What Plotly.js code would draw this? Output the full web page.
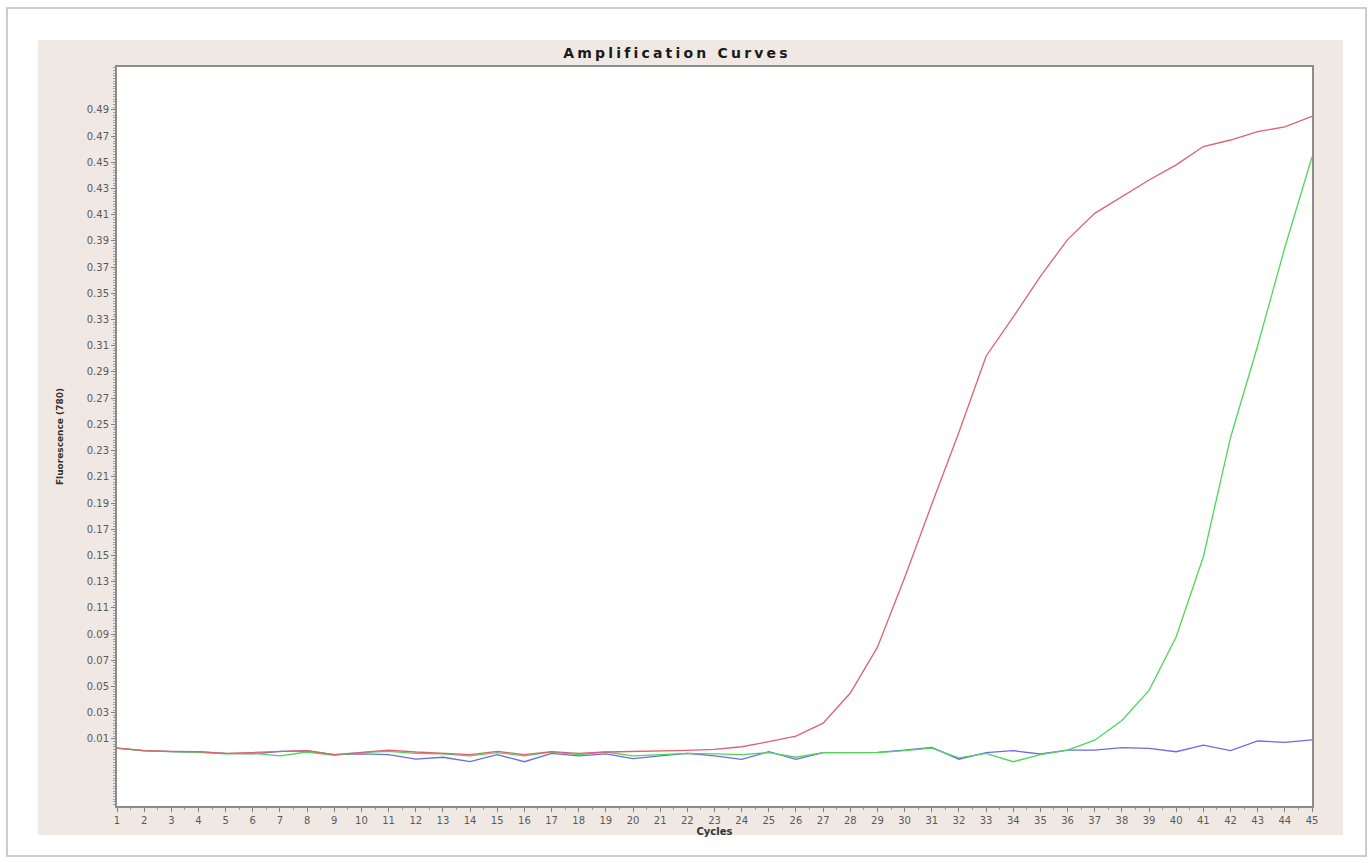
<!DOCTYPE html>
<html>
<head>
<meta charset="utf-8">
<script src="https://cdn.plot.ly/plotly-3.0.1.min.js"></script>
<style>
  html, body { margin: 0; padding: 0; background: #ffffff; }
  #chart { width: 1372px; height: 863px; }
</style>
</head>
<body>
<div id="chart"></div>
<script>
// ---- data ----
const cycles = [1,2,3,4,5,6,7,8,9,10,11,12,13,14,15,16,17,18,19,20,21,22,23,24,25,26,27,28,29,30,31,32,33,34,35,36,37,38,39,40,41,42,43,44,45];

const redSeries = [0.003,0.001,0.0005,0.0003,-0.001,-0.0005,0.0,0.001,-0.002,0.0,
  0.0015,0.0,-0.001,-0.002,0.0005,-0.002,0.0003,-0.001,0.0,0.0003,
  0.001,0.0013,0.002,0.004,0.0079,0.0122,0.022,0.045,0.080,0.133,
  0.189,0.244,0.302,0.332,0.363,0.391,0.411,0.424,0.4365,0.448,
  0.462,0.467,0.4734,0.477,0.485];

const greenSeries = [0.003,0.0008,0.0003,-0.0003,-0.0015,-0.001,-0.003,0.0,-0.0025,-0.0005,
  0.0005,-0.001,-0.0015,-0.003,-0.0005,-0.003,0.0,-0.002,0.0,-0.003,
  -0.002,-0.001,-0.0015,-0.002,-0.0005,-0.004,-0.0005,-0.0003,-0.0005,0.001,
  0.003,-0.0045,-0.001,-0.0074,-0.002,0.0015,0.009,0.024,0.047,0.088,
  0.149,0.24,0.31,0.385,0.454];

const blueSeries = [0.003,0.001,0.0003,0.0,-0.001,-0.0015,0.0005,0.0008,-0.002,-0.0015,
  -0.002,-0.0055,-0.004,-0.0074,-0.002,-0.0074,-0.001,-0.003,-0.0015,-0.005,
  -0.003,-0.001,-0.003,-0.0056,0.0002,-0.0056,-0.0005,-0.0003,-0.0003,0.0015,
  0.0036,-0.0055,-0.0005,0.001,-0.0015,0.0015,0.0015,0.0033,0.0028,0.0002,
  0.0053,0.001,0.0084,0.0074,0.0092];

const yTickVals = [0.01,0.03,0.05,0.07,0.09,0.11,0.13,0.15,0.17,0.19,0.21,0.23,0.25,0.27,0.29,0.31,0.33,0.35,0.37,0.39,0.41,0.43,0.45,0.47,0.49];
const yTickText = yTickVals.map(v => v.toFixed(2));
const xTickVals = cycles;

const titleText = 'Amplification Curves';
const xTitle = 'Cycles';
const yTitle = 'Fluorescence (780)';

// ---- layout helpers (pixel -> paper) ----
const W = 1372, H = 863;
const M = { l: 117, r: 60, t: 67, b: 57 };
const PW = W - M.l - M.r, PH = H - M.t - M.b;
const px = x => (x - M.l) / PW;
const py = y => (H - M.b - y) / PH;

const beige = '#f0e9e3';
const white = '#ffffff';

function rect(x0, y0, x1, y1, fill, line) {
  return {
    type: 'rect', xref: 'paper', yref: 'paper', layer: 'below',
    x0: px(x0), x1: px(x1), y0: py(y1), y1: py(y0),
    fillcolor: fill, line: line || { width: 0 }
  };
}

const shapes = [
  // white surroundings outside the beige panel
  rect(0, 0, W, 40, white),
  rect(0, 835, W, H, white),
  rect(0, 0, 38, H, white),
  rect(1343, 0, W, H, white),
  // outer card border
  { type: 'rect', xref: 'paper', yref: 'paper', layer: 'above',
    x0: px(7), x1: px(1366), y0: py(856), y1: py(8),
    fillcolor: 'rgba(0,0,0,0)', line: { color: '#bdbdbd', width: 1.5 } }
];

const lineW = 1.3;
const traces = [
  { x: cycles, y: blueSeries, mode: 'lines', name: 'Blue', line: { color: '#6b6be8', width: lineW } },
  { x: cycles, y: greenSeries, mode: 'lines', name: 'Green', line: { color: '#4fd65a', width: lineW } },
  { x: cycles, y: redSeries, mode: 'lines', name: 'Red', line: { color: '#e0606e', width: lineW } }
];

const tickFont = { family: 'DejaVu Sans, Arial, sans-serif', size: 10, color: '#5a5a5a' };

const layout = {
  width: W, height: H,
  margin: M,
  paper_bgcolor: beige,
  plot_bgcolor: white,
  showlegend: false,
  title: {
    text: '<span style="letter-spacing:3.2px">' + titleText + '</span>',
    font: { family: 'DejaVu Sans, Arial, sans-serif', size: 14, color: '#1a1a1a', weight: 'bold' },
    x: 677 / W, xref: 'container', xanchor: 'center',
    y: 1 - 53 / H, yref: 'container', yanchor: 'middle'
  },
  xaxis: {
    range: [1, 45],
    tickvals: xTickVals,
    ticktext: xTickVals.map(String),
    ticks: 'outside', ticklen: 4, tickcolor: '#808080', tickwidth: 1,
    tickfont: tickFont,
    showgrid: false, zeroline: false,
    showline: true, linecolor: '#8c8c8c', linewidth: 2, mirror: true,
    minor: { dtick: 0.5, ticks: 'outside', ticklen: 2, tickcolor: '#9a9a9a' },
    title: { text: xTitle, standoff: 2, font: { family: 'DejaVu Sans, Arial, sans-serif', size: 10, color: '#333', weight: 'bold' } },
    fixedrange: true
  },
  yaxis: {
    range: [-0.0412, 0.5227],
    tickvals: yTickVals,
    ticktext: yTickText,
    ticks: 'outside', ticklen: 4, tickcolor: '#808080', tickwidth: 1,
    tickfont: tickFont,
    showgrid: false, zeroline: false,
    showline: true, linecolor: '#8c8c8c', linewidth: 2, mirror: true,
    minor: { dtick: 0.002, ticks: 'outside', ticklen: 2, tickcolor: '#a0a0a0' },
    title: { text: yTitle, standoff: 22, font: { family: 'DejaVu Sans, Arial, sans-serif', size: 9, color: '#333', weight: 'bold' } },
    fixedrange: true
  },
  shapes: shapes
};

Plotly.newPlot('chart', traces, layout, { displayModeBar: false, staticPlot: true });
</script>
</body>
</html>
